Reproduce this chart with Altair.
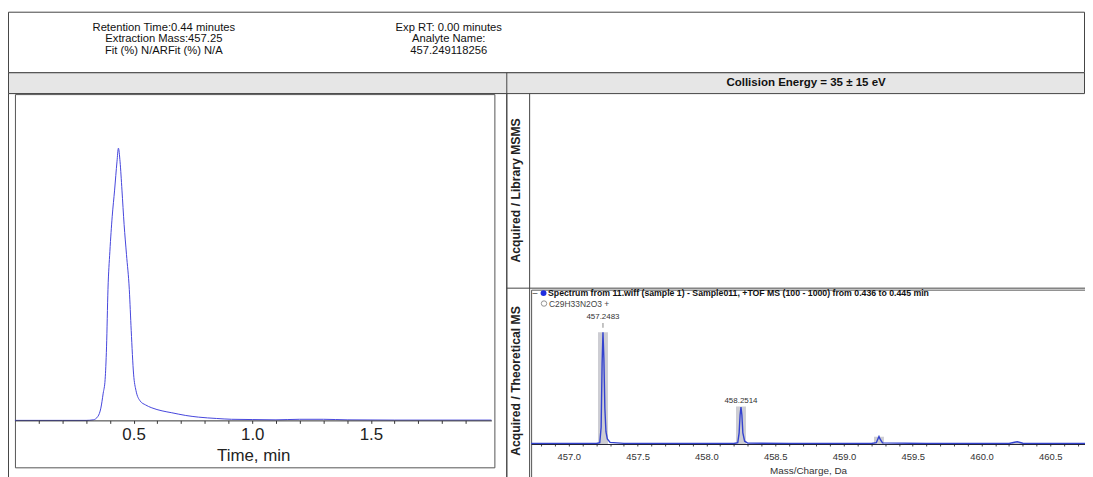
import altair as alt
import pandas as pd

FONT = "Liberation Sans"

# ---------------- texts ----------------
header_left = ["Retention Time:0.44 minutes", "Extraction Mass:457.25", "Fit (%) N/ARFit (%) N/A"]
header_right = ["Exp RT: 0.00 minutes", "Analyte Name:", "457.249118256"]
collision_title = "Collision Energy = 35 \u00b1 15 eV"
panel_label_top = "Acquired / Library MSMS"
panel_label_bottom = "Acquired / Theoretical MS"
legend_spectrum = "Spectrum from 11.wiff (sample 1) - Sample011, +TOF MS (100 - 1000) from 0.436 to 0.445 min"
legend_theory = "C29H33N2O3 +"

# ---------------- extracted ion chromatogram ----------------
xic_time = [0.0, 0.1, 0.2, 0.3, 0.33, 0.35, 0.362, 0.372, 0.38, 0.386, 0.392, 0.40, 0.41, 0.42, 0.43,
            0.436, 0.443, 0.451, 0.46, 0.47, 0.482, 0.49, 0.50, 0.51, 0.528, 0.55, 0.577, 0.62, 0.661,
            0.72, 0.773, 0.85, 0.913, 1.0, 1.1, 1.2, 1.3, 1.4, 1.6, 1.8, 2.008]
xic_intensity = [0.0, 0.0, 0.0, 0.0, 0.002, 0.015, 0.045, 0.1, 0.15, 0.27, 0.48, 0.62, 0.75, 0.846, 0.95,
                 1.0, 0.95, 0.846, 0.72, 0.61, 0.48, 0.33, 0.17, 0.11, 0.071, 0.057, 0.046, 0.035, 0.028,
                 0.018, 0.012, 0.007, 0.004, 0.003, 0.002, 0.004, 0.004, 0.002, 0.001, 0.001, 0.001]
time_ticks = [0.1, 0.2, 0.3, 0.4, 0.5, 0.6, 0.7, 0.8, 0.9, 1.0, 1.1, 1.2, 1.3, 1.4, 1.5, 1.6, 1.7, 1.8, 1.9]

# ---------------- acquired MS spectrum ----------------
ms_mz = [456.726, 456.9, 457.1, 457.2, 457.225, 457.235, 457.242, 457.2483, 457.255, 457.262, 457.27,
         457.28, 457.30, 457.4, 457.7, 458.0, 458.2, 458.228, 458.238, 458.245, 458.2514, 458.258,
         458.265, 458.278, 458.30, 458.6, 459.0, 459.2, 459.235, 459.248, 459.2545, 459.262, 459.28,
         459.6, 460.0, 460.2, 460.24, 460.26, 460.3, 460.752]
ms_intensity = [0.004, 0.005, 0.004, 0.005, 0.012, 0.15, 0.72, 1.0, 0.76, 0.32, 0.11,
                0.045, 0.015, 0.006, 0.005, 0.005, 0.005, 0.012, 0.1, 0.26, 0.33, 0.26,
                0.1, 0.025, 0.008, 0.005, 0.005, 0.005, 0.012, 0.05, 0.068, 0.045, 0.01,
                0.005, 0.005, 0.005, 0.016, 0.02, 0.007, 0.005]
mz_ticks = [456.8, 456.9, 457.0, 457.1, 457.2, 457.3, 457.4, 457.5, 457.6, 457.7, 457.8, 457.9,
            458.0, 458.1, 458.2, 458.3, 458.4, 458.5, 458.6, 458.7, 458.8, 458.9, 459.0, 459.1,
            459.2, 459.3, 459.4, 459.5, 459.6, 459.7, 459.8, 459.9, 460.0, 460.1, 460.2, 460.3,
            460.4, 460.5, 460.6, 460.7]

# theoretical isotope pattern
theory_mz = [457.2483, 458.2514, 459.2545, 460.2576]
theory_intensity = [1.0, 0.336, 0.065, 0.009]

# peak labels
main_label_mz = [457.2483]
main_label_intensity = [1.0]
main_label_text = ["457.2483"]
second_label_mz = [458.2514]
second_label_intensity = [0.33]
second_label_text = ["458.2514"]

xic_df = pd.DataFrame({"time": xic_time, "intensity": xic_intensity})
ms_df = pd.DataFrame({"mz": ms_mz, "intensity": ms_intensity})
theory_df = pd.DataFrame({"mz": theory_mz, "intensity": theory_intensity})
main_lab_df = pd.DataFrame({"mz": main_label_mz, "intensity": main_label_intensity, "label": main_label_text})
sec_lab_df = pd.DataFrame({"mz": second_label_mz, "intensity": second_label_intensity, "label": second_label_text})

one = alt.Data(values=[{"k": 0}])


def rect(x, x2, y, y2, fill="white", stroke="#444", sw=1.0):
    return alt.Chart(one).mark_rect(fill=fill, stroke=stroke, strokeWidth=sw).encode(
        x=alt.value(x), x2=alt.value(x2), y=alt.value(y), y2=alt.value(y2))


def rule(x, x2, y, y2, color="#444", sw=1.0):
    return alt.Chart(one).mark_rule(color=color, strokeWidth=sw).encode(
        x=alt.value(x), x2=alt.value(x2), y=alt.value(y), y2=alt.value(y2))


def label(text, x, y, **kw):
    return alt.Chart(one).mark_text(text=text, font=FONT, **kw).encode(x=alt.value(x), y=alt.value(y))


# ---------------- scales (pixel ranges inside the 1085x469 canvas) ----------------
xic_x = alt.Scale(domain=[0, 2.008], range=[7, 487], nice=False, zero=False)
xic_y = alt.Scale(domain=[0, 1], range=[413.7, 139.5], nice=False)
ms_x = alt.Scale(domain=[456.726, 460.752], range=[527, 1085], nice=False, zero=False)
ms_y = alt.Scale(domain=[0, 1], range=[437.5, 325], nice=False)

label_expr = "abs(datum.value * 2 - round(datum.value * 2)) < 0.001 ? format(datum.value, '.1f') : ''"

xic_axis = alt.Axis(values=time_ticks, labelExpr=label_expr, orient="bottom", offset=-55.3, zindex=2,
                    domainColor="#333", tickColor="#333", tickSize=3, grid=False,
                    labelFont=FONT, labelFontSize=17, labelColor="#222", labelPadding=3,
                    labelOverlap=False, labelFlush=False,
                    titleFont=FONT, titleFontSize=17, titleFontWeight="normal", titleColor="#222",
                    titlePadding=5)
ms_axis = alt.Axis(values=mz_ticks, labelExpr=label_expr, orient="bottom", offset=-31.5, zindex=2,
                   domainColor="#223", tickColor="#444", tickSize=2, grid=False,
                   labelFont=FONT, labelFontSize=9.5, labelColor="#333", labelPadding=6,
                   labelOverlap=False, labelFlush=False,
                   titleFont=FONT, titleFontSize=10, titleFontWeight="normal", titleColor="#333",
                   titlePadding=4)

# ---------------- frames ----------------
layers = [
    rect(0.5, 1084.5, 2.5, 63.5),                       # header box
    rect(0.5, 1084.5, 63.5, 84.5, fill="#e6e6e6"),      # grey title bar
    rect(0.5, 502.5, 84.5, 490),                        # left panel
    rect(7.5, 490.5, 85.5, 461.5, stroke="#555"),       # chromatogram box
    rule(502.5, 502.5, 63.5, 490),                      # right divider
    rule(525.5, 525.5, 84.5, 490),                      # label column
    rule(502.5, 1085, 280.5, 280.5),                    # MSMS / MS separator
    rect(527.5, 1095, 282.5, 490, fill="white", stroke="#555"),  # spectrum box
]

# ---------------- header texts ----------------
layers += [
    label(header_left, 157, 12.5, fontSize=11.3, lineHeight=11.4, baseline="top", align="center", color="#111"),
    label(header_right, 444, 12.5, fontSize=11.3, lineHeight=11.4, baseline="top", align="center", color="#111"),
    label(collision_title, 804, 74, fontSize=11.6, fontWeight="bold", baseline="middle", align="center", color="#111"),
    label(panel_label_top, 512, 182, fontSize=12.3, fontWeight="bold", angle=270, baseline="middle", align="center", color="#222"),
    label(panel_label_bottom, 512, 374, fontSize=12.3, fontWeight="bold", angle=270, baseline="middle", align="center", color="#222"),
]

# ---------------- chromatogram ----------------
xic_line = alt.Chart(xic_df).mark_line(color="#4646dc", strokeWidth=1, interpolate="monotone").encode(
    x=alt.X("time:Q", scale=xic_x, axis=xic_axis, title="Time, min"),
    y=alt.Y("intensity:Q", scale=xic_y, axis=None),
)
layers.append(xic_line)

# ---------------- spectrum ----------------
theory_bars = alt.Chart(theory_df).mark_rule(strokeWidth=10, color="#bcbcc4", opacity=0.75).encode(
    x=alt.X("mz:Q", scale=ms_x, axis=None),
    y=alt.Y("intensity:Q", scale=ms_y, axis=None),
    y2=alt.datum(0),
)
ms_line = alt.Chart(ms_df).mark_line(color="#3342cf", strokeWidth=1.4).encode(
    x=alt.X("mz:Q", scale=ms_x, axis=ms_axis, title="Mass/Charge, Da"),
    y=alt.Y("intensity:Q", scale=ms_y, axis=None),
)
main_tick = alt.Chart(main_lab_df).mark_tick(orient="vertical", size=5, thickness=1, color="#555", yOffset=-7).encode(
    x=alt.X("mz:Q", scale=ms_x, axis=None),
    y=alt.Y("intensity:Q", scale=ms_y, axis=None),
)
main_text = alt.Chart(main_lab_df).mark_text(font=FONT, fontSize=8, color="#333", dy=-15, baseline="middle").encode(
    x=alt.X("mz:Q", scale=ms_x, axis=None),
    y=alt.Y("intensity:Q", scale=ms_y, axis=None),
    text="label:N",
)
sec_text = alt.Chart(sec_lab_df).mark_text(font=FONT, fontSize=8, color="#333", dy=-6, baseline="middle").encode(
    x=alt.X("mz:Q", scale=ms_x, axis=None),
    y=alt.Y("intensity:Q", scale=ms_y, axis=None),
    text="label:N",
)
layers += [theory_bars, ms_line, main_tick, main_text, sec_text]

# ---------------- spectrum legend ----------------
layers += [
    label("\u2013", 531, 285.5, fontSize=9, baseline="middle", align="center", color="#333"),
    alt.Chart(one).mark_point(filled=True, color="#1f2ee0", size=36, opacity=1).encode(x=alt.value(539.5), y=alt.value(285.5)),
    label(legend_spectrum, 544, 285.5, fontSize=8.8, fontWeight="bold", baseline="middle", align="left", color="#111"),
    alt.Chart(one).mark_point(filled=False, color="#666", size=30, strokeWidth=1).encode(x=alt.value(540), y=alt.value(296)),
    label(legend_theory, 545, 296, fontSize=8.5, baseline="middle", align="left", color="#444"),
]

chart = alt.layer(*layers).resolve_scale(x="independent", y="independent").properties(
    width=1085, height=469, padding=0, autosize=alt.AutoSizeParams(type="none"),
    background="white",
).configure_view(strokeWidth=0)

chart.save("out.html", embed_options={"renderer": "svg", "actions": False})
